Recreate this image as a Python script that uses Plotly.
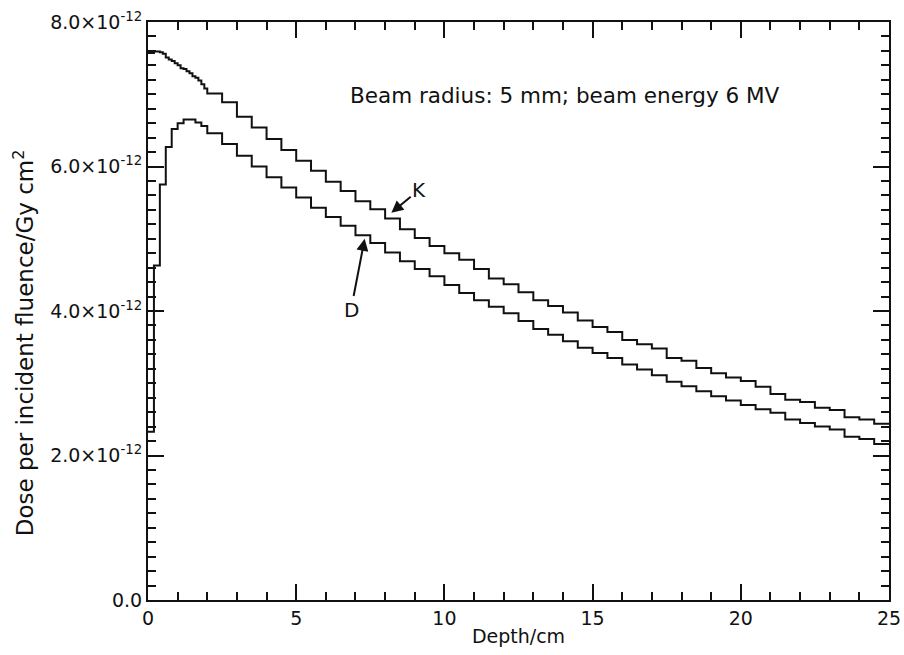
import plotly.graph_objects as go

# ---- data (values in units of 1e-12 Gy cm^2) ----
k_fine_step = 0.1   # K: fine bins from 0 to 2 cm
k_fine = [7.57, 7.57, 7.59, 7.59, 7.58, 7.56, 7.51, 7.48, 7.46, 7.43,
          7.40, 7.36, 7.35, 7.32, 7.29, 7.25, 7.23, 7.19, 7.14, 7.08]
k_coarse = [7.01, 6.89, 6.69, 6.54, 6.38, 6.23, 6.08, 5.94, 5.79, 5.66,
            5.52, 5.41, 5.28, 5.13, 5.01, 4.90, 4.80, 4.71, 4.58, 4.45,
            4.37, 4.26, 4.15, 4.07, 3.98, 3.87, 3.78, 3.71, 3.60, 3.54,
            3.48, 3.35, 3.31, 3.21, 3.14, 3.08, 3.03, 2.95, 2.85, 2.77,
            2.74, 2.66, 2.63, 2.53, 2.50, 2.44]
d_fine_step = 0.2   # D: fine bins from 0 to 2 cm
d_fine = [2.33, 4.63, 5.75, 6.27, 6.52, 6.60, 6.65, 6.65, 6.61, 6.56]
d_coarse = [6.46, 6.31, 6.15, 6.00, 5.85, 5.71, 5.57, 5.43, 5.30, 5.18,
            5.05, 4.94, 4.81, 4.69, 4.58, 4.48, 4.36, 4.25, 4.15, 4.06,
            3.97, 3.86, 3.75, 3.67, 3.58, 3.49, 3.42, 3.35, 3.26, 3.19,
            3.11, 3.02, 2.96, 2.89, 2.82, 2.76, 2.70, 2.64, 2.59, 2.50,
            2.45, 2.40, 2.36, 2.26, 2.23, 2.16]
coarse_step = 0.5
fine_end = 2.0
depth_max = 25
unit = 1e-12

y_tickvals = [0, 2, 4, 6, 8]
y_ticktext = ["0.0", "2.0×10<sup>-12</sup>", "4.0×10<sup>-12</sup>",
              "6.0×10<sup>-12</sup>", "8.0×10<sup>-12</sup>"]
x_tickvals = [0, 5, 10, 15, 20, 25]


def step_xy(fine, fine_step, coarse, coarse_step):
    xs = [round(i * fine_step, 4) for i in range(len(fine))]
    xs += [round(fine_end + i * coarse_step, 4) for i in range(len(coarse))]
    xs.append(depth_max)
    vals = fine + coarse
    ys = [v * unit for v in vals] + [vals[-1] * unit]
    return xs, ys


kx, ky = step_xy(k_fine, k_fine_step, k_coarse, coarse_step)
dx, dy = step_xy(d_fine, d_fine_step, d_coarse, coarse_step)

FONT = "DejaVu Sans"
INK = "#111"

fig = go.Figure()
fig.add_trace(go.Scatter(x=kx, y=ky, mode="lines", line=dict(shape="hv", color=INK, width=2),
                         name="K", showlegend=False))
fig.add_trace(go.Scatter(x=dx, y=dy, mode="lines", line=dict(shape="hv", color=INK, width=2),
                         name="D", showlegend=False))

fig.add_annotation(x=6.76, y=6.98 * unit, xref="x", yref="y", text="Beam radius: 5 mm; beam energy 6 MV",
                   showarrow=False, xanchor="left", yanchor="middle", font=dict(family=FONT, size=21.5, color=INK))
fig.add_annotation(x=8.21, y=5.36 * unit, ax=9.15, ay=5.68 * unit, axref="x", ayref="y", xref="x", yref="y",
                   text="K", showarrow=True, arrowhead=2, arrowsize=1.2, arrowwidth=2, arrowcolor=INK,
                   font=dict(family=FONT, size=20, color=INK))
fig.add_annotation(x=7.31, y=5.00 * unit, ax=6.85, ay=4.02 * unit, axref="x", ayref="y", xref="x", yref="y",
                   text="D", showarrow=True, arrowhead=2, arrowsize=1.2, arrowwidth=2, arrowcolor=INK,
                   font=dict(family=FONT, size=20, color=INK))
# y axis title placed as rotated annotation
fig.add_annotation(x=-0.168, y=0.445, xref="paper", yref="paper", textangle=-90, showarrow=False,
                   text="Dose per incident fluence/Gy cm<sup>2</sup>", xanchor="center", yanchor="middle",
                   font=dict(family=FONT, size=23, color=INK))

axis_common = dict(showline=True, linecolor=INK, linewidth=2, mirror="allticks", ticks="inside",
                   tickcolor=INK, tickwidth=2, ticklen=16, showgrid=False, zeroline=False, automargin=False,
                   tickfont=dict(family=FONT, size=19, color=INK))

fig.update_xaxes(range=[0, depth_max], tickvals=x_tickvals,
                 minor=dict(dtick=1, ticks="inside", ticklen=8, tickwidth=2, tickcolor=INK, showgrid=False),
                 title=dict(text="Depth/cm", font=dict(family=FONT, size=19, color=INK), standoff=2),
                 **axis_common)
fig.update_yaxes(range=[0, 8 * unit], tickvals=[v * unit for v in y_tickvals], ticktext=y_ticktext,
                 minor=dict(dtick=0.2 * unit, ticks="inside", ticklen=8, tickwidth=2, tickcolor=INK, showgrid=False),
                 **axis_common)

fig.update_layout(width=904, height=655, margin=dict(l=148, r=15, t=22, b=55, autoexpand=False),
                  plot_bgcolor="white", paper_bgcolor="white", font=dict(family=FONT, size=19, color=INK))

fig.write_html("out.html")
